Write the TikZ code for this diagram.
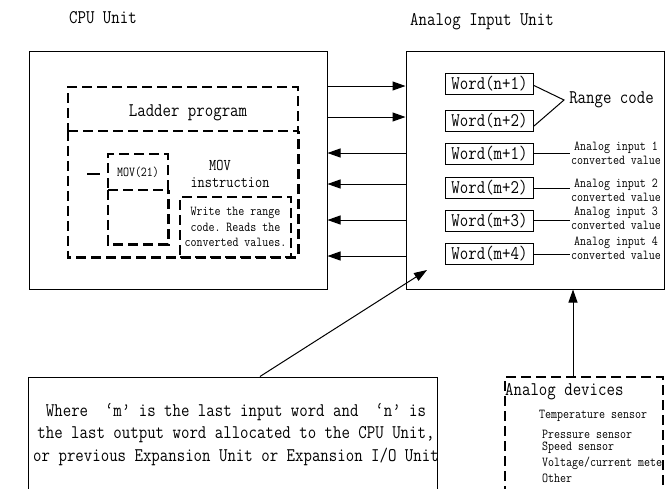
\documentclass[tikz,border=0pt]{standalone}
\usepackage{fontspec}
\setmonofont{Latin Modern Mono}[FakeStretch=0.85]
\usetikzlibrary{arrows.meta,calc}
\tikzset{
  solidbox/.style={draw, line width=1pt, rectangle, inner sep=0pt},
  dashline/.style={line width=2.6pt, dash pattern=on 10pt off 5pt},
  dashbox/.style={draw, dashline, rectangle, inner sep=0pt},
  bigtxt/.style={font=\ttfamily\fontsize{19.3}{22.5}\selectfont, inner sep=1pt},
  midtxt/.style={font=\ttfamily\fontsize{16.4}{18}\selectfont, inner sep=1pt},
  smalltxt/.style={font=\ttfamily\fontsize{13.7}{15.5}\selectfont, inner sep=1pt},
  labeltxt/.style={font=\ttfamily\fontsize{13.7}{14}\selectfont, inner sep=1pt, align=center},
  wordbox/.style={solidbox, bigtxt, minimum width=88pt, minimum height=21pt},
  link/.style={line width=1pt},
  arrow/.style={link, -{Triangle[length=13pt,width=9pt]}},
}
\begin{document}
\begin{tikzpicture}[x=1pt,y=-1pt]
\useasboundingbox (0,0) rectangle (667,488);

% unit titles
\node[bigtxt] (cpulbl) at (103,18) {CPU Unit};
\node[bigtxt] (ailbl) at (482,22) {Analog Input Unit};

% unit frames
\node[solidbox, minimum width=298pt, minimum height=238pt] (cpu) at (178,170) {};
\node[solidbox, minimum width=258pt, minimum height=238pt] (ai) at (535,170) {};

% ladder program area
\node[dashbox, minimum width=230pt, minimum height=44pt] (ladder) at (183,109) {};
\node[bigtxt] (ladtxt) at (188,113) {Ladder program};
\node[minimum width=230pt, minimum height=126pt, inner sep=0pt] (prog) at (183,194) {};
\draw[dashline] (prog.north west) -- (prog.south west) -- (prog.south east) -- (prog.north east);

% MOV(21) instruction block
\node[dashbox, smalltxt, minimum width=60pt, minimum height=36pt] (mov) at (138,172) {MOV(21)};
\node[minimum width=60pt, minimum height=54pt, inner sep=0pt] (movlow) at (138,217) {};
\draw[dashline] (movlow.north west) -- (movlow.south west) -- (movlow.south east) -- (movlow.north east);
\coordinate (stub) at (87,174);
\draw[line width=2.6pt, dash pattern=on 13pt off 20pt] (stub) -- (stub -| mov.west);

\node[midtxt] (movtxt) at (220,165) {MOV};
\node[midtxt] (instrtxt) at (230,183) {instruction};

\node[dashbox, smalltxt, align=center, minimum width=111pt, minimum height=60pt] (write) at (235.5,227)
  {Write the range\\code. Reads the\\converted values.};

% data exchange between the units
\coordinate (r1) at (0,86);
\coordinate (r2) at (0,117);
\coordinate (l1) at (0,153);
\coordinate (l2) at (0,184);
\coordinate (l3) at (0,220);
\coordinate (l4) at (0,256);
\draw[arrow] (cpu.east |- r1) -- (ai.west |- r1);
\draw[arrow] (cpu.east |- r2) -- (ai.west |- r2);
\draw[arrow] (ai.west |- l1) -- (cpu.east |- l1);
\draw[arrow] (ai.west |- l2) -- (cpu.east |- l2);
\draw[arrow] (ai.west |- l3) -- (cpu.east |- l3);
\draw[arrow] (ai.west |- l4) -- (cpu.east |- l4);

% allocated words
\node[wordbox] (w1) at (489.5,83.5) {Word(n+1)};
\node[wordbox] (w2) at (489.5,121) {Word(n+2)};
\node[wordbox] (w3) at (489.5,153.5) {Word(m+1)};
\node[wordbox] (w4) at (489.5,188) {Word(m+2)};
\node[wordbox] (w5) at (489.5,220.5) {Word(m+3)};
\node[wordbox] (w6) at (489.5,254) {Word(m+4)};

\node[bigtxt] (range) at (611.5,100) {Range code};
\coordinate (rj) at (564,100);
\draw[link] ($(w1.east)+(0,2)$) -- (rj) -- ($(w2.east)+(0,5)$);

\node[labeltxt] (v1) at (616,153) {Analog input 1\\converted value};
\node[labeltxt] (v2) at (616,190) {Analog input 2\\converted value};
\node[labeltxt] (v3) at (616,218) {Analog input 3\\converted value};
\node[labeltxt] (v4) at (616,248) {Analog input 4\\converted value};
\draw[link] (w3.east) -- (w3.east -| v1.west);
\draw[link] (w4.east) -- (w4.east -| v2.west);
\draw[link] (w5.east) -- (w5.east -| v3.west);
\draw[link] (w6.east) -- (w6.east -| v4.west);

% note on word allocation
\node[solidbox, minimum width=409pt, minimum height=130pt] (note) at (232.5,442) {};
\node[bigtxt, align=center] (notetxt) at (236,434.5)
  {Where\ \ ‘m’ is the last input word and\ \ ‘n’ is\\
   the last output word allocated to the CPU Unit,\\
   or previous Expansion Unit or Expansion I/O Unit};
\coordinate (dtip) at (427,270);
\draw[arrow] ($(note.north west)!0.567!(note.north east)$) -- (dtip);

% connected analog devices
\node[dashbox, minimum width=158pt, minimum height=130pt] (dev) at (584,442) {};
\coordinate (vbase) at (573,377);
\draw[arrow] (vbase) -- (vbase |- ai.south);
\node[bigtxt, anchor=west] (devtitle) at (504,392) {Analog devices};
\node[labeltxt, anchor=west] (d1) at (538,416) {Temperature sensor};
\node[labeltxt, anchor=west] (d2) at (541,434) {Pressure sensor};
\node[labeltxt, anchor=west] (d3) at (541,448) {Speed sensor};
\node[labeltxt, anchor=west] (d4) at (541,463) {Voltage/current mete};
\node[labeltxt, anchor=west] (d5) at (541,478) {Other};
\end{tikzpicture}
\end{document}
